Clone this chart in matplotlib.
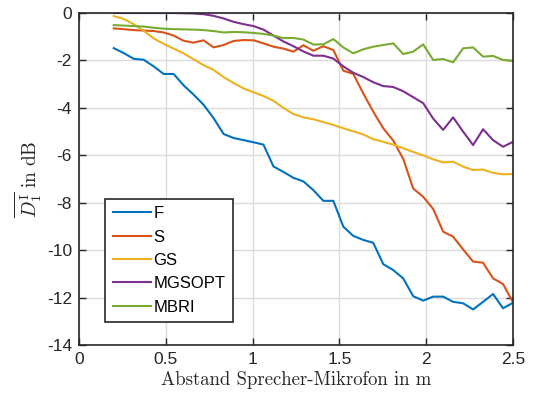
import numpy as np
import matplotlib
matplotlib.use("Agg")
import matplotlib.pyplot as plt

plt.rcParams['font.family'] = ['Liberation Sans', 'DejaVu Sans']
plt.rcParams['mathtext.fontset'] = 'cm'

# distance speaker-microphone in m (41 measuring points)
abstand = np.linspace(0.2, 2.5, 41)

F = [-1.48, -1.69, -1.93, -1.97, -2.25, -2.57, -2.57, -3.05, -3.44, -3.87,
     -4.43, -5.1, -5.27, -5.36, -5.45, -5.55, -6.47, -6.7, -6.95, -7.1,
     -7.47, -7.92, -7.92, -9.01, -9.4, -9.57, -9.69, -10.59, -10.84, -11.19,
     -11.94, -12.13, -11.96, -11.96, -12.18, -12.24, -12.5, -12.18, -11.85, -12.45,
     -12.22]
S = [-0.65, -0.68, -0.72, -0.74, -0.76, -0.82, -0.95, -1.17, -1.25, -1.15,
     -1.45, -1.35, -1.18, -1.14, -1.15, -1.28, -1.42, -1.5, -1.63, -1.36,
     -1.59, -1.4, -1.56, -2.43, -2.57, -3.39, -4.16, -4.86, -5.38, -6.15,
     -7.4, -7.75, -8.26, -9.22, -9.43, -9.97, -10.48, -10.53, -11.19, -11.43,
     -12.2]
GS = [-0.13, -0.25, -0.47, -0.75, -1.07, -1.3, -1.5, -1.7, -1.95, -2.2,
      -2.4, -2.7, -2.95, -3.18, -3.34, -3.5, -3.7, -4.0, -4.26, -4.4,
      -4.48, -4.6, -4.72, -4.86, -4.99, -5.12, -5.32, -5.43, -5.55, -5.7,
      -5.86, -6.0, -6.17, -6.3, -6.27, -6.48, -6.62, -6.6, -6.74, -6.8,
      -6.79]
MGSOPT = [0.0, 0.0, 0.0, 0.0, 0.0, 0.0, 0.0, -0.01, -0.02, -0.05,
          -0.12, -0.23, -0.37, -0.47, -0.55, -0.7, -0.95, -1.2, -1.4, -1.62,
          -1.8, -1.8, -1.92, -2.25, -2.52, -2.7, -2.92, -3.08, -3.12, -3.3,
          -3.55, -3.8, -4.45, -4.93, -4.4, -5.0, -5.57, -4.9, -5.36, -5.64,
          -5.43]
MBRI = [-0.51, -0.53, -0.55, -0.57, -0.62, -0.66, -0.68, -0.69, -0.7, -0.72,
        -0.76, -0.82, -0.8, -0.81, -0.84, -0.88, -0.95, -1.06, -1.05, -1.12,
        -1.33, -1.32, -1.1, -1.45, -1.7, -1.53, -1.42, -1.35, -1.28, -1.73,
        -1.63, -1.32, -1.98, -1.94, -2.08, -1.49, -1.45, -1.84, -1.81, -1.98,
        -2.02]

labels = ['F', 'S', 'GS', 'MGSOPT', 'MBRI']
colors = ['#0072BD', '#D95319', '#EDB120', '#7E2F8E', '#77AC30']

fig = plt.figure(figsize=(5.35, 4.03), dpi=100)
ax = fig.add_axes([0.1477, 0.1439, 0.8112, 0.8238])

for y, lab, c in zip([F, S, GS, MGSOPT, MBRI], labels, colors):
    ax.plot(abstand, y, color=c, lw=1.5, label=lab)

ax.set_xlim(0, 2.5)
ax.set_ylim(-14, 0)
ax.set_xticks([0, 0.5, 1, 1.5, 2, 2.5])
ax.set_xticklabels(['0', '0.5', '1', '1.5', '2', '2.5'])
ax.set_yticks(np.arange(-14, 1, 2))
ax.set_yticklabels([str(v) for v in range(-14, 1, 2)])
ax.grid(True, color='#dcdcdc', lw=1)
ax.set_axisbelow(True)
ax.tick_params(direction='in', top=True, right=True, length=5, width=1,
               color='#262626', labelsize=12.5, labelcolor='#262626', pad=5)
for sp in ax.spines.values():
    sp.set_color('#262626')
    sp.set_linewidth(1.2)

ax.set_xlabel('Abstand Sprecher-Mikrofon in m', family='cmr10', fontsize=13.5,
              color='#262626', labelpad=3)
ax.set_ylabel(r'$\overline{D_1^{\mathrm{I}}}\ \mathrm{in\ dB}$', fontsize=14,
              color='#262626', labelpad=2)

leg = ax.legend(loc='lower left', bbox_to_anchor=(0.06, 0.069), fontsize=12,
                fancybox=False, framealpha=1, edgecolor='#262626',
                handlelength=2.3, handletextpad=0.15, borderpad=0.45,
                labelspacing=0.5, borderaxespad=0)
leg.get_frame().set_linewidth(1.2)

fig.savefig('out.png', dpi=100)
